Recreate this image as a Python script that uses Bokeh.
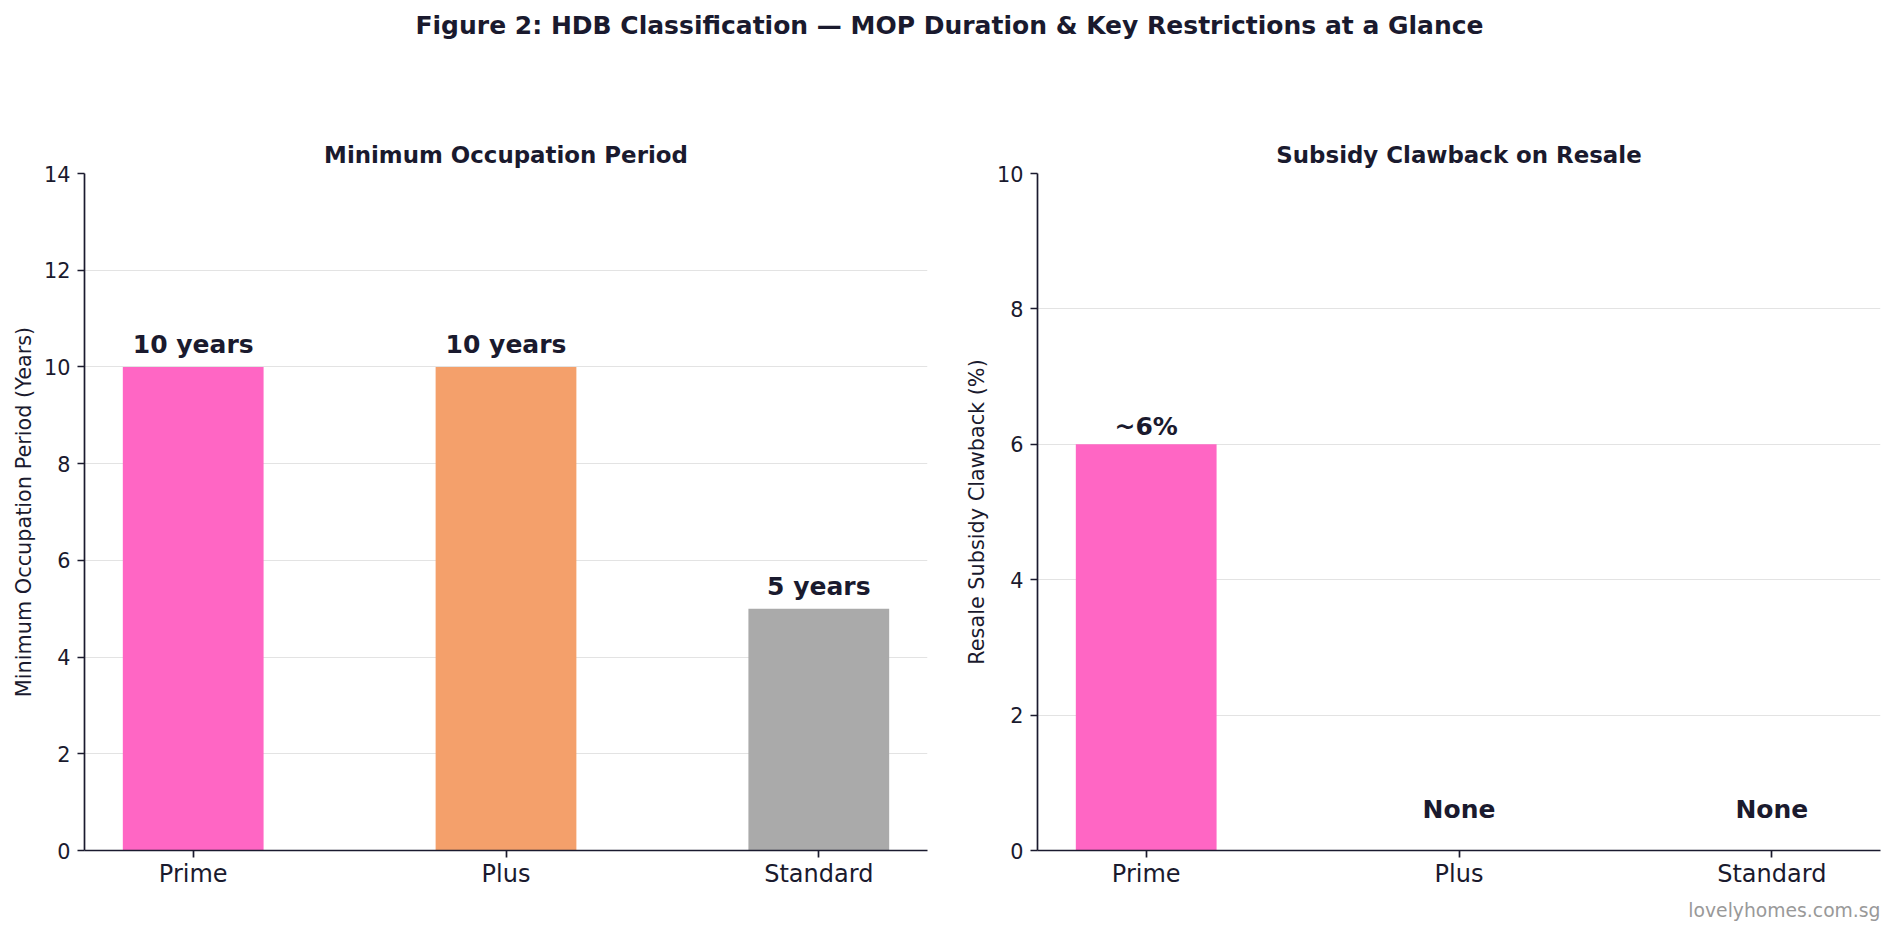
from bokeh.plotting import figure
from bokeh.layouts import column, row
from bokeh.models import Range1d, FixedTicker, Title, ColumnDataSource
from bokeh.core.properties import value
from bokeh.embed import file_html
from bokeh.resources import INLINE

# ---------------- data ----------------
categories = ["Prime", "Plus", "Standard"]
mop_years = [10, 10, 5]
mop_labels = ["10 years", "10 years", "5 years"]
clawback_pct = [6, 0, 0]
clawback_labels = ["~6%", "None", "None"]
bar_colors = ["#FF66C4", "#F4A06B", "#AAAAAA"]
mop_ticks = [0, 2, 4, 6, 8, 10, 12, 14]
clawback_ticks = [0, 2, 4, 6, 8, 10]

TXT = "#1a1a2e"
FONT = "DejaVu Sans"
BAR_W = 0.45
XPAD = 0.1225


def style_panel(p, ylabel, ticks):
    p.outline_line_color = None
    p.background_fill_color = "white"
    p.border_fill_color = "white"
    p.xgrid.grid_line_color = None
    p.ygrid.grid_line_color = "#e3e3e3"
    p.ygrid.grid_line_width = 1
    p.ygrid.ticker = FixedTicker(ticks=ticks)
    p.xaxis.ticker = FixedTicker(ticks=list(range(len(categories))))
    p.xaxis.major_label_overrides = {i: c for i, c in enumerate(categories)}
    p.yaxis.ticker = FixedTicker(ticks=ticks)
    for ax in (p.xaxis[0], p.yaxis[0]):
        ax.axis_line_color = TXT
        ax.axis_line_width = 1.7
        ax.major_tick_line_color = TXT
        ax.major_tick_line_width = 1.7
        ax.major_tick_out = 7
        ax.major_tick_in = 0
        ax.minor_tick_line_color = None
        ax.major_label_text_font = FONT
        ax.major_label_text_color = TXT
    p.xaxis.major_label_standoff = 2
    p.yaxis.major_label_standoff = 7
    p.xaxis.major_label_text_font_size = "24px"
    p.yaxis.major_label_text_font_size = "20.8px"
    p.yaxis.axis_label = ylabel
    p.yaxis.axis_label_text_font = FONT
    p.yaxis.axis_label_text_font_size = "20.8px"
    p.yaxis.axis_label_text_font_style = "normal"
    p.yaxis.axis_label_text_color = TXT
    p.yaxis.axis_label_standoff = 5
    p.title.align = "center"
    p.title.text_font = FONT
    p.title.text_font_size = "22.9px"
    p.title.text_font_style = "bold"
    p.title.text_color = TXT
    p.title.standoff = 11.5


x_idx = list(range(len(categories)))
xr = (-BAR_W / 2 - XPAD, len(categories) - 1 + BAR_W / 2 + XPAD)

# ---------------- title strip ----------------
tf = figure(width=1898, height=60, x_range=Range1d(0, 1), y_range=Range1d(0, 60),
            output_backend="svg", toolbar_location=None, min_border=0)
tf.axis.visible = False
tf.grid.visible = False
tf.outline_line_color = None
tf.text(x=[0.5], y=[34.6],
        text=["Figure 2: HDB Classification \u2014 MOP Duration & Key Restrictions at a Glance"],
        text_font=value(FONT), text_font_size="25px", text_font_style="bold",
        text_color=TXT, text_align="center", text_baseline="middle")

# ---------------- left panel ----------------
p1 = figure(width=960, height=879, x_range=Range1d(*xr), y_range=Range1d(0, 14),
            title="Minimum Occupation Period",
            output_backend="svg", toolbar_location=None,
            min_border_left=84, min_border_right=33, min_border_top=113, min_border_bottom=89)
style_panel(p1, "Minimum Occupation Period (Years)", mop_ticks)
src1 = ColumnDataSource(dict(x=x_idx, top=mop_years, color=bar_colors, lab=mop_labels))
p1.vbar(x="x", top="top", width=BAR_W, bottom=0, fill_color="color", line_color=None, source=src1)
p1.text(x="x", y="top", text="lab", source=src1, text_font=value(FONT), text_font_size="25px",
        text_font_style="bold", text_color=TXT, text_align="center",
        text_baseline="alphabetic", y_offset=-22)

# ---------------- right panel ----------------
p2 = figure(width=938, height=879, x_range=Range1d(*xr), y_range=Range1d(0, 10),
            title="Subsidy Clawback on Resale",
            output_backend="svg", toolbar_location=None,
            min_border_left=77, min_border_right=18, min_border_top=113, min_border_bottom=89)
style_panel(p2, "Resale Subsidy Clawback (%)", clawback_ticks)
pos = [i for i, v in enumerate(clawback_pct) if v > 0]
zero = [i for i, v in enumerate(clawback_pct) if v <= 0]
src2 = ColumnDataSource(dict(x=pos, top=[clawback_pct[i] for i in pos],
                             color=[bar_colors[i] for i in pos],
                             lab=[clawback_labels[i] for i in pos]))
p2.vbar(x="x", top="top", width=BAR_W, bottom=0, fill_color="color", line_color=None, source=src2)
p2.text(x="x", y="top", text="lab", source=src2, text_font=value(FONT), text_font_size="25px",
        text_font_style="bold", text_color=TXT, text_align="center",
        text_baseline="alphabetic", y_offset=-18)
src3 = ColumnDataSource(dict(x=zero, y=[0] * len(zero), lab=[clawback_labels[i] for i in zero]))
p2.text(x="x", y="y", text="lab", source=src3, text_font=value(FONT), text_font_size="25px",
        text_font_style="bold", text_color=TXT, text_align="center",
        text_baseline="alphabetic", y_offset=-41)

wm = Title(text="lovelyhomes.com.sg", align="right", text_font=FONT,
           text_font_size="18.75px", text_font_style="normal", text_color="#999999",
           standoff=15)
p2.add_layout(wm, "below")

layout = column(tf, row(p1, p2, spacing=0), spacing=0)
open("out.html", "w").write(file_html(layout, INLINE))
